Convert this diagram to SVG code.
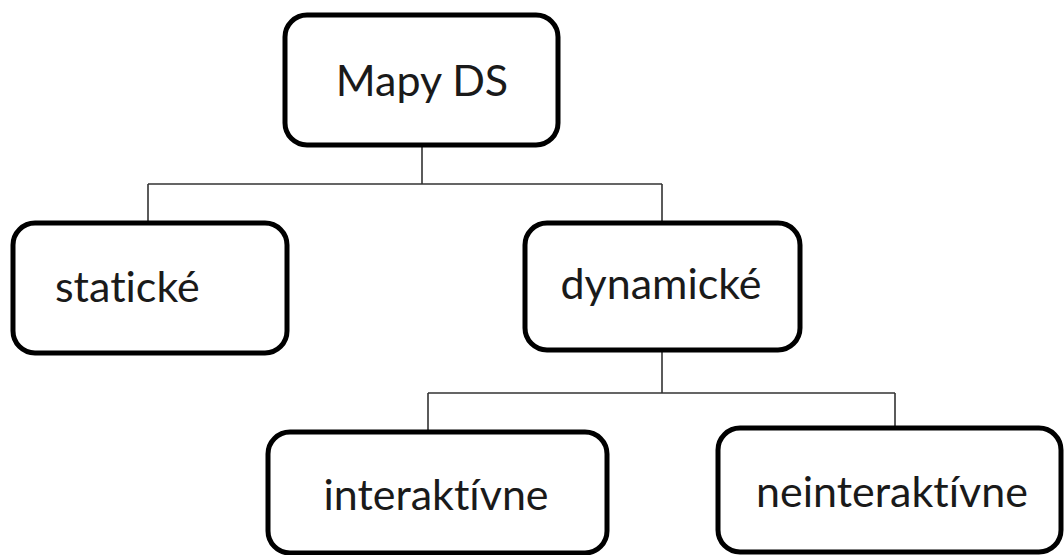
<svg xmlns="http://www.w3.org/2000/svg" width="1064" height="555" viewBox="0 0 1064 555">
<style>
.box{fill:#fff;stroke:#000;stroke-width:5}
.lbl{font-family:Lato,"Open Sans","Liberation Sans",sans-serif;font-size:43px;fill:#1a1a1a;font-variant-ligatures:none}
.con{fill:none;stroke:#333;stroke-width:1.6}
</style>
<rect width="1064" height="555" fill="#fff"/>
<g id="connectors">
<path class="con" d="M422 145V184M148 184H662M148 184V223M662 184V223"/>
<path class="con" d="M662 350V393M428 393H895M428 393V432M895 393V428"/>
</g>
<g id="mapy"><rect class="box" x="285" y="15" width="273" height="130" rx="22"/><text class="lbl" x="422" y="96" text-anchor="middle">Mapy DS</text></g>
<g id="staticke"><rect class="box" x="13" y="223" width="274" height="130" rx="22"/><text class="lbl" x="55" y="302">statické</text></g>
<g id="dynamicke"><rect class="box" x="525" y="223" width="275" height="127" rx="22"/><text class="lbl" x="661" y="299" text-anchor="middle">dynamické</text></g>
<g id="interaktivne"><rect class="box" x="268" y="432" width="339" height="121" rx="22"/><text class="lbl" x="436" y="510" text-anchor="middle">interaktívne</text></g>
<g id="neinteraktivne"><rect class="box" x="718" y="428" width="343" height="124" rx="22"/><text class="lbl" x="892" y="507" text-anchor="middle">neinteraktívne</text></g>
</svg>
